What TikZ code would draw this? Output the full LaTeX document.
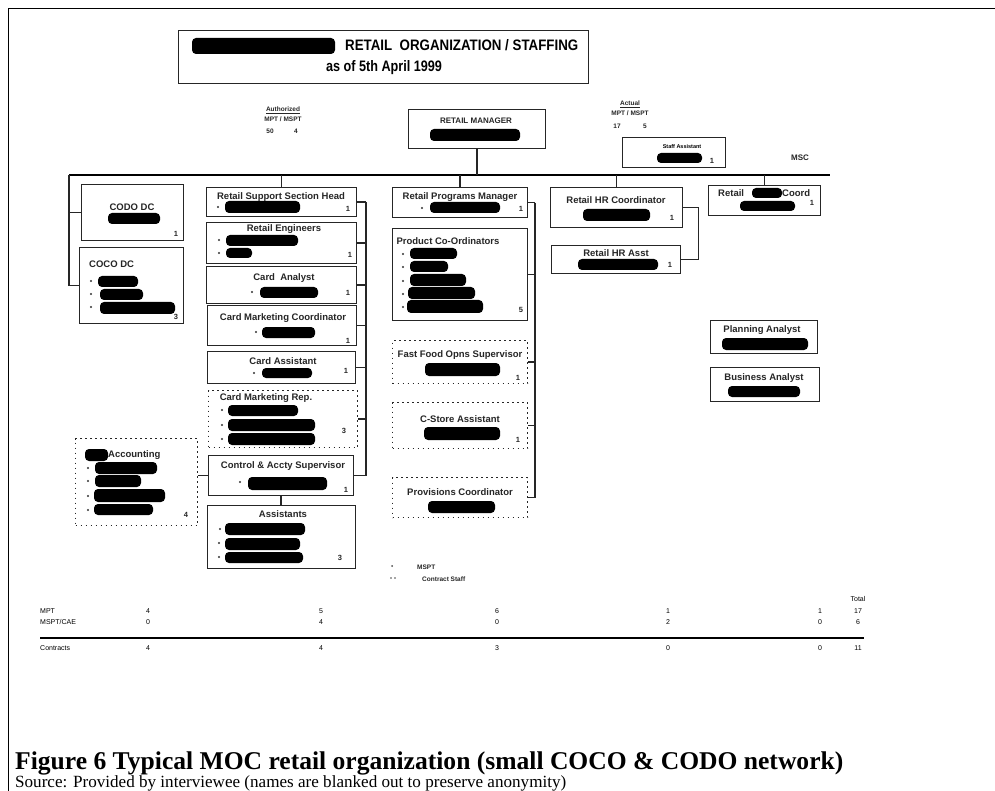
\documentclass[tikz,border=0pt]{standalone}
\usepackage{fontspec}
\setmainfont{Liberation Sans}
\newfontfamily\capserif{Liberation Serif}
\usetikzlibrary{calc}
\tikzset{
  orgbox/.style={draw=black!85, line width=1.1pt, anchor=north west, inner sep=0pt},
  dotbox/.style={orgbox, dash pattern=on 1.6pt off 3.4pt},
  conn/.style={draw=black!85, line width=1.2pt},
  mainline/.style={draw=black, line width=1.8pt},
  ttl/.style={font=\bfseries\fontsize{9.5}{10}\selectfont, inner sep=0pt, text=black!85},
  cnt/.style={font=\bfseries\fontsize{7.5}{8}\selectfont, inner sep=0pt, text=black!85},
  tiny/.style={font=\bfseries\fontsize{6.5}{7}\selectfont, inner sep=0pt, text=black!85},
  tab/.style={font=\fontsize{7}{8}\selectfont, inner sep=0pt},
}
% blacked-out name bar and list bullet
\newcommand\redact[4]{\fill[black, rounded corners=4pt] (#1,#3) rectangle (#2,#4);}
\newcommand\bul[2]{\fill[black!80] (#1,#2) circle (1.1pt);}
\begin{document}
\begin{tikzpicture}[x=1pt, y=-1pt]
\useasboundingbox[fill=white] (0,0) rectangle (995,791);
% page frame
\draw[line width=0.8pt] (8,791) -- (8,8) -- (995,8);

% ---------- heading ----------
\node[orgbox, minimum width=410pt, minimum height=53pt] (title) at (178,30) {};
\redact{192}{335}{38}{54}
\node[anchor=base west, inner sep=0pt] (ttlA) at (345,51)
  {\resizebox{233pt}{11pt}{\bfseries RETAIL\ \ ORGANIZATION / STAFFING}};
\node[anchor=base, inner sep=0pt] (ttlB) at (384,72)
  {\resizebox{116pt}{11pt}{\bfseries as of 5th April 1999}};

\node[tiny] (auth) at (283,110) {\underline{Authorized}};
\node[tiny] (authA) at (283,119) {MPT / MSPT};
\node[tiny] (authB) at (270,131) {50};
\node[tiny] (authC) at (296,131) {4};

\node[tiny] (act) at (630,104) {\underline{Actual}};
\node[tiny] (actA) at (630,113) {MPT / MSPT};
\node[tiny] (actB) at (617,126) {17};
\node[tiny] (actC) at (645,126) {5};

% ---------- top level ----------
\node[orgbox, minimum width=137pt, minimum height=39pt] (mgr) at (408,109) {};
\node[font=\bfseries\fontsize{8}{9}\selectfont, inner sep=0pt, text=black!85] (mgrT) at (476,121) {RETAIL MANAGER};
\redact{430}{520}{129}{141}

\node[orgbox, minimum width=103pt, minimum height=30pt] (staff) at (622,137) {};
\node[font=\bfseries\fontsize{5.5}{6}\selectfont, inner sep=0pt] (staffT) at (682,147) {Staff Assistant};
\redact{657}{702}{153}{163}
\node[cnt] (staffN) at (712,161) {1};

\node[font=\bfseries\fontsize{8}{9}\selectfont, inner sep=0pt, text=black!85] (msc) at (800,158) {MSC};

\coordinate (mainL) at (69,175);
\coordinate (mainR) at (830,175);
\draw[mainline] (mainL) -- (mainR);
\draw[conn] (mgr.south) -- (mgr.south |- mainL);
\draw[conn] ($(staff.south west)+(0,-7)$) -- ($(staff.south west)+(0,-7)$ -| mgr.south);

% ---------- dealer channel column ----------
\node[orgbox, minimum width=102pt, minimum height=56pt] (codo) at (81,184) {};
\node[ttl] (codoT) at (132,207) {CODO DC};
\redact{108}{160}{213}{224}
\node[cnt] (codoN) at (176,234) {1};

\node[orgbox, minimum width=104pt, minimum height=76pt] (coco) at (79,247) {};
\node[ttl, anchor=west] (cocoT) at (89,264) {COCO DC};
\bul{91}{281}\bul{91}{294}\bul{91}{307}
\redact{98}{138}{276}{287}
\redact{100}{143}{289}{300}
\redact{100}{175}{302}{314}
\node[cnt] (cocoN) at (176,317) {3};

\draw[conn] (mainL) |- (coco.west);
\draw[conn] (codo.west) -- (codo.west -| mainL);

% ---------- retail support column ----------
\node[orgbox, minimum width=150pt, minimum height=29pt] (rssh) at (206,187) {};
\node[ttl] (rsshT) at (281,197) {Retail Support Section Head};
\bul{218}{207}\redact{225}{300}{201}{213}
\node[cnt] (rsshN) at (348,209) {1};

\node[orgbox, minimum width=150pt, minimum height=41pt] (reng) at (206,222) {};
\node[ttl] (rengT) at (284,229) {Retail Engineers};
\bul{219}{240}\bul{219}{253}
\redact{226}{298}{235}{246}
\redact{226}{252}{248}{258}
\node[cnt] (rengN) at (350,255) {1};

\node[orgbox, minimum width=150pt, minimum height=37pt] (cana) at (206,266) {};
\node[ttl] (canaT) at (284,278) {Card\ \ Analyst};
\bul{252}{292}\redact{260}{318}{287}{298}
\node[cnt] (canaN) at (348,293) {1};

\node[orgbox, minimum width=149pt, minimum height=40pt] (cmc) at (207,305) {};
\node[ttl] (cmcT) at (283,318) {Card Marketing Coordinator};
\bul{256}{332}\redact{262}{315}{327}{338}
\node[cnt] (cmcN) at (348,341) {1};

\node[orgbox, minimum width=148pt, minimum height=32pt] (casst) at (207,351) {};
\node[ttl] (casstT) at (283,361) {Card Assistant};
\bul{254}{373}\redact{262}{312}{368}{378}
\node[cnt] (casstN) at (346,371) {1};

\node[dotbox, minimum width=149pt, minimum height=57pt] (cmr) at (208,390) {};
\node[ttl] (cmrT) at (266,398) {Card Marketing Rep.};
\bul{222}{410}\bul{222}{425}\bul{222}{439}
\redact{228}{298}{405}{416}
\redact{228}{315}{419}{431}
\redact{228}{315}{433}{445}
\node[cnt] (cmrN) at (344,431) {3};

\node[orgbox, minimum width=145pt, minimum height=40pt] (cas) at (208,455) {};
\node[ttl] (casT) at (283,466) {Control \& Accty Supervisor};
\bul{240}{482}\redact{248}{327}{477}{490}
\node[cnt] (casN) at (346,490) {1};

\node[orgbox, minimum width=148pt, minimum height=63pt] (asst) at (207,505) {};
\node[ttl] (asstT) at (283,514) {Assistants};
\bul{220}{529}\bul{219}{543}\bul{219}{557}
\redact{225}{305}{523}{535}
\redact{225}{300}{538}{550}
\redact{225}{303}{552}{563}
\node[cnt] (asstN) at (340,558) {3};

\node[dotbox, minimum width=122pt, minimum height=87pt] (acct) at (75,438) {};
\redact{85}{108}{449}{461}
\node[ttl, anchor=west] (acctT) at (108,455) {Accounting};
\bul{88}{468}\bul{88}{481}\bul{88}{496}\bul{88}{510}
\redact{95}{157}{462}{474}
\redact{95}{141}{475}{487}
\redact{94}{165}{489}{502}
\redact{94}{153}{504}{515}
\node[cnt] (acctN) at (186,515) {4};

\draw[conn] (rssh.north) -- (rssh.north |- mainL);
\coordinate (brB) at (366,0);
\draw[conn] (rssh.east -| brB) -- (cas.east -| brB);
\foreach \b in {rssh,reng,cana,cmc,casst,cmr,cas}
  \draw[conn] (\b.east) -- (\b.east -| brB);
\draw[conn] (cas.south) -- (cas.south |- asst.north);
\draw[conn] (cas.west) -- (cas.west -| acct.east);

% ---------- retail programs column ----------
\node[orgbox, minimum width=135pt, minimum height=30pt] (rpm) at (392,187) {};
\node[ttl] (rpmT) at (460,197) {Retail Programs Manager};
\bul{422}{208}\redact{430}{500}{202}{213}
\node[cnt] (rpmN) at (521,209) {1};

\node[orgbox, minimum width=135pt, minimum height=92pt] (pco) at (392,228) {};
\node[ttl] (pcoT) at (448,241) {Product Co-Ordinators};
\bul{403}{254}\bul{403}{267}\bul{403}{281}\bul{403}{294}\bul{403}{307}
\redact{410}{457}{248}{259}
\redact{410}{448}{261}{272}
\redact{410}{466}{274}{286}
\redact{408}{475}{287}{299}
\redact{407}{483}{300}{313}
\node[cnt] (pcoN) at (521,310) {5};

\node[dotbox, minimum width=135pt, minimum height=43pt] (ffos) at (392,340) {};
\node[ttl] (ffosT) at (460,355) {Fast Food Opns Supervisor};
\redact{425}{500}{363}{376}
\node[cnt] (ffosN) at (518,378) {1};

\node[dotbox, minimum width=135pt, minimum height=46pt] (csa) at (392,402) {};
\node[ttl] (csaT) at (460,419) {C-Store Assistant};
\redact{424}{500}{427}{440}
\node[cnt] (csaN) at (518,440) {1};

\node[dotbox, minimum width=135pt, minimum height=40pt] (prov) at (392,477) {};
\node[ttl] (provT) at (460,492) {Provisions Coordinator};
\redact{428}{495}{501}{513}

\draw[conn] (rpm.north) -- (rpm.north |- mainL);
\coordinate (brC) at (535,0);
\draw[conn] (rpm.east -| brC) -- (prov.east -| brC);
\foreach \b in {rpm,pco,ffos,csa,prov}
  \draw[conn] (\b.east) -- (\b.east -| brC);

% ---------- human resources column ----------
\node[orgbox, minimum width=132pt, minimum height=40pt] (hrc) at (550,187) {};
\node[ttl] (hrcT) at (616,200) {Retail HR Coordinator};
\redact{583}{650}{209}{221}
\node[cnt] (hrcN) at (672,218) {1};

\node[orgbox, minimum width=129pt, minimum height=28pt] (hra) at (551,245) {};
\node[ttl] (hraT) at (616,253) {Retail HR Asst};
\redact{578}{658}{259}{270}
\node[cnt] (hraN) at (670,265) {1};

\draw[conn] (hrc.north) -- (hrc.north |- mainL);
\draw[conn] (hrc.east) -- ++(15,0) |- (hra.east);

% ---------- coordination column ----------
\node[orgbox, minimum width=112pt, minimum height=30pt] (rc) at (708,185) {};
\node[ttl, anchor=west] (rcA) at (718,193) {Retail};
\redact{752}{782}{188}{198}
\node[ttl, anchor=west] (rcB) at (782,193) {Coord};
\redact{740}{795}{201}{211}
\node[cnt] (rcN) at (812,203) {1};
\draw[conn] (rc.north) -- (rc.north |- mainL);

\node[orgbox, minimum width=107pt, minimum height=33pt] (plan) at (710,320) {};
\node[ttl] (planT) at (762,330) {Planning Analyst};
\redact{722}{808}{338}{350}

\node[orgbox, minimum width=109pt, minimum height=34pt] (bus) at (710,367) {};
\node[ttl] (busT) at (764,378) {Business Analyst};
\redact{728}{800}{386}{397}

% ---------- key ----------
\fill[black!70] (392,566) circle (1pt);
\node[tiny, anchor=west] (keyA) at (417,567) {MSPT};
\fill[black!70] (391,578) circle (0.9pt);
\fill[black!70] (395,578) circle (0.9pt);
\node[tiny, anchor=west] (keyB) at (422,579) {Contract Staff};

% ---------- head-count table ----------
\node[tab, anchor=west] (rowA) at (40,611) {MPT};
\node[tab, anchor=west] (rowB) at (40,622) {MSPT/CAE};
\node[tab, anchor=west] (rowC) at (40,648) {Contracts};
\node[tab] (tot) at (858,599) {Total};
\foreach \x/\a/\b/\c [count=\i] in {148/4/0/4, 321/5/4/4, 497/6/0/3, 668/1/2/0, 820/1/0/0, 858/17/6/11} {
  \node[tab] (ma\i) at (\x,611) {\a};
  \node[tab] (mb\i) at (\x,622) {\b};
  \node[tab] (mc\i) at (\x,648) {\c};
}
\coordinate (ruleL) at (40,638);
\coordinate (ruleR) at (864,638);
\draw[line width=1.5pt] (ruleL) -- (ruleR);

% ---------- caption ----------
\node[anchor=base west, inner sep=0pt] (cap) at (15,769)
  {\resizebox{828pt}{!}{\capserif\bfseries Figure 6 Typical MOC retail organization (small COCO \& CODO network)}};
\node[anchor=base west, inner sep=0pt] (src) at (15,787)
  {\resizebox{551pt}{!}{\capserif Source: Provided by interviewee (names are blanked out to preserve anonymity)}};
\end{tikzpicture}
\end{document}
